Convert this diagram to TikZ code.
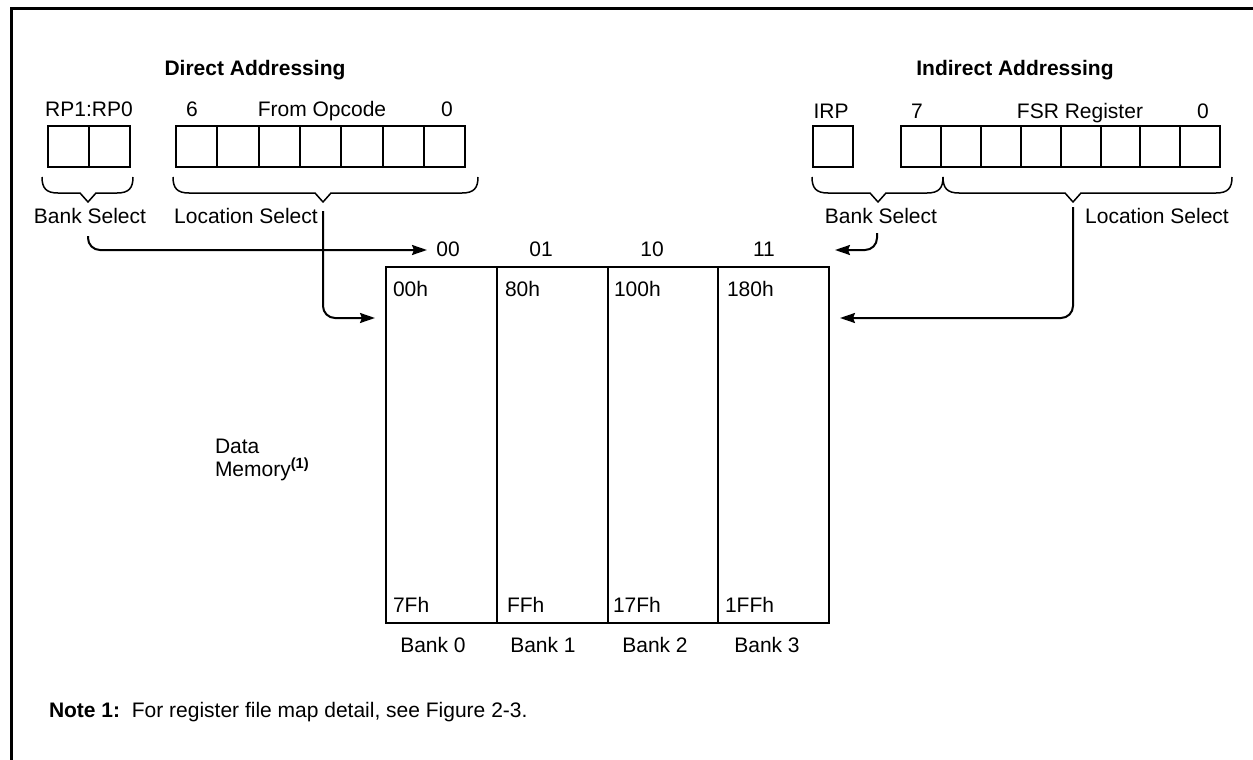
\documentclass[tikz,border=0pt]{standalone}
\usepackage{fontspec}
\setmainfont{Liberation Sans}
\usetikzlibrary{arrows.meta}
\begin{document}
\begin{tikzpicture}[x=1pt,y=-1pt,
  lbl/.style={font=\fontsize{21}{24}\selectfont, inner sep=0pt, outer sep=0pt, anchor=base},
  lblw/.style={lbl, anchor=base west},
  ttl/.style={lbl, font=\fontsize{21}{24}\selectfont\bfseries},
  cell/.style={draw, line width=2pt, minimum height=41pt, inner sep=0pt, outer sep=0pt},
  bankbox/.style={draw, line width=2pt, minimum width=110.75pt, minimum height=356pt, inner sep=0pt, outer sep=0pt},
  conn/.style={line width=2pt, rounded corners=12pt, -{Stealth[length=15pt,width=10pt,inset=2pt]}},
  brc/.style={line width=1.5pt, line join=round}
]
\useasboundingbox (0,0) rectangle (1253,760);
% frame
\draw[line width=3pt] (11,760) -- (11,9) -- (1253,9);

% titles
\node[ttl] (tD) at (255,75) {Direct Addressing};
\node[ttl] (tI) at (1015,75) {Indirect Addressing};

% direct register labels
\node[lbl] (rpl) at (89,117) {RP1:RP0};
\node[lbl] (op6) at (192,117) {6};
\node[lbl] (opl) at (322,117) {From Opcode};
\node[lbl] (op0) at (447,117) {0};

% indirect register labels
\node[lbl] (irpl) at (831,118) {IRP};
\node[lbl] (fs7) at (917,118) {7};
\node[lbl] (fsl) at (1080,118) {FSR Register};
\node[lbl] (fs0) at (1203,118) {0};

% cells
\foreach \i in {0,1} \node[cell, minimum width=41pt] (rp\i) at ({68.5+41*\i},146.5) {};
\foreach \i in {0,...,6} \node[cell, minimum width=41.3pt] (op\i) at ({196.65+41.3*\i},146.5) {};
\node[cell, minimum width=40pt] (irp) at (833,146.5) {};
\foreach \i in {0,...,7} \node[cell, minimum width=39.9pt] (fsr\i) at ({920.95+39.9*\i},146.5) {};

% braces
\newcommand\bracedraw[3]{%
  \draw[brc] (#1,177) .. controls (#1,188) and (#1+4,193) .. (#1+16,193)
    -- (#2-8,193) -- (#2,202) -- (#2+8,193) -- (#3-16,193)
    .. controls (#3-4,193) and (#3,188) .. (#3,177);}
\bracedraw{42}{88}{133}
\bracedraw{173}{323}{478}
\bracedraw{812}{878}{943}
\bracedraw{943}{1073}{1232}

% select labels
\node[lbl] (dbsl) at (90,223) {Bank Select};
\node[lbl] (dlsl) at (246,223) {Location Select};
\node[lbl] (ibsl) at (881,223) {Bank Select};
\node[lbl] (ilsl) at (1157,223) {Location Select};

% memory banks
\foreach \i in {0,...,3} \node[bankbox] (bank\i) at ({441.375+110.75*\i},445) {};

% column labels
\node[lbl] (c00) at (448,256) {00};
\node[lbl] (c01) at (541,256) {01};
\node[lbl] (c10) at (652,256) {10};
\node[lbl] (c11) at (764,256) {11};

% address labels
\node[lblw] (a0s) at (393,296) {00h};
\node[lblw] (a1s) at (505,296) {80h};
\node[lblw] (a2s) at (614,296) {100h};
\node[lblw] (a3s) at (727,296) {180h};
\node[lblw] (a0e) at (393,612) {7Fh};
\node[lblw] (a1e) at (507,612) {FFh};
\node[lblw] (a2e) at (613,612) {17Fh};
\node[lblw] (a3e) at (725,612) {1FFh};

% bank names
\node[lbl] (b0) at (433,652) {Bank 0};
\node[lbl] (b1) at (543,652) {Bank 1};
\node[lbl] (b2) at (655,652) {Bank 2};
\node[lbl] (b3) at (767,652) {Bank 3};

% data memory
\node[lblw, align=left] (dm) at (215,476) {Data\\[-1pt]Memory\textsuperscript{\bfseries(1)}};

% note
\node[lblw] (note) at (49,717) {\textbf{Note 1:}\ \ For register file map detail, see Figure 2-3.};

% connectors
\coordinate (dbs) at (88,236);
\coordinate (dbsT) at (427,250);
\coordinate (dls) at (323,211);
\coordinate (dlsT) at (375,318);
\coordinate (ibs) at (877,233);
\coordinate (ibsT) at (835,250);
\coordinate (ils) at (1073,207);
\coordinate (ilsT) at (840,318);
\draw[conn] (dbs) |- (dbsT);
\draw[conn] (dls) |- (dlsT);
\draw[conn] (ibs) |- (ibsT);
\draw[conn] (ils) |- (ilsT);
\end{tikzpicture}
\end{document}
